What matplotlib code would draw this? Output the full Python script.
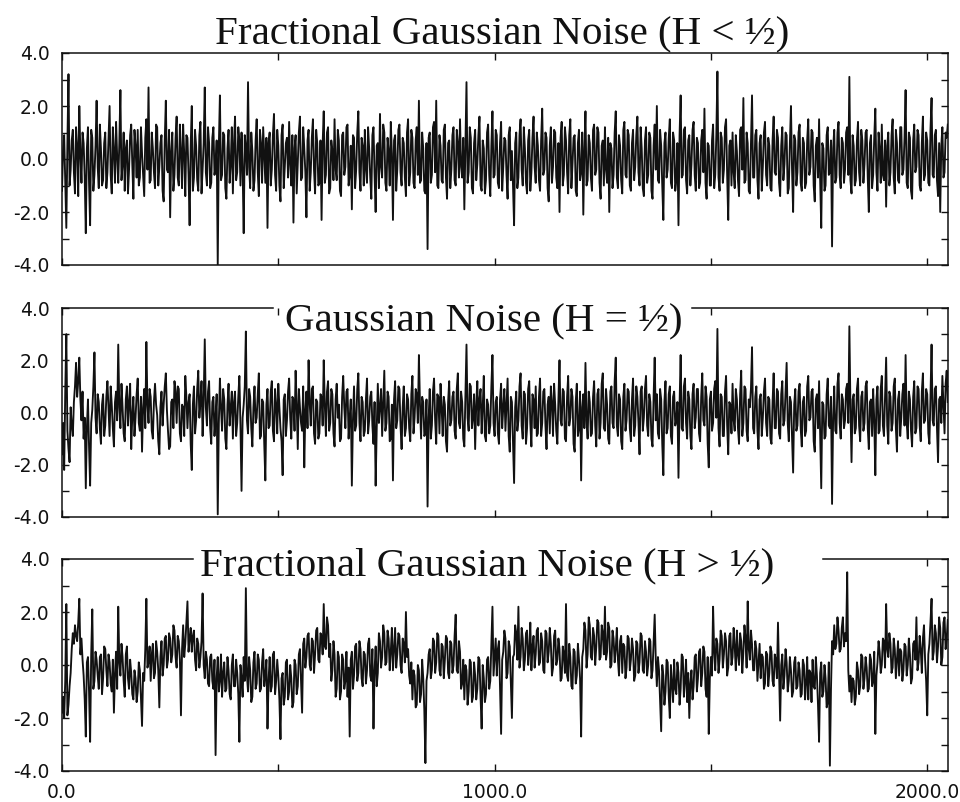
import numpy as np
import matplotlib
matplotlib.use('Agg')
import matplotlib.pyplot as plt
from matplotlib.ticker import MultipleLocator


### data

# one sample kept every STEP time steps
STEP = 2.5

# fractional gaussian noise, anti-persistent (H < 1/2)
fgn_low = [
	-1.2, 0.3, 0.9, -0.8, -2.6, 0.6, 3.2, -1.0, -0.4, 0.7, 1.1, -0.5, -1.3, 1.2, 0.5, -1.4, 2.0, 0.2, -0.9, 1.0, 0.6, -0.7, -2.8, 0.4, 1.2, -0.9, -2.5, 1.1, 0.8, -1.2, -0.6, 0.5, 2.2, -0.3, -1.1, 1.3, 0.4, -1.0, -0.8, 0.6,
	1.0, -1.1, -0.5, 0.8, 2.0, -0.6, -1.3, 1.2, 0.3, -0.9, 1.4, 0.1, -0.9, 0.6, 2.6, -0.8, -0.2, 1.0, -1.2, 0.4, 0.7, -1.3, -0.4, 0.9, 1.3, -0.2, -1.5, 1.1, 0.5, -0.7, 1.1, -1.0, -0.7, 1.2, 0.2, -0.6, -1.4, 0.8, 1.5, -0.4,
	2.7, -0.9, -0.8, 1.0, 0.4, -0.5, -1.1, 1.3, 1.2, -1.0, -0.3, 0.6, 0.9, -1.2, -1.6, 0.7, 2.2, -0.4, -0.5, 1.1, -2.2, 0.3, 1.0, -1.2, -0.6, 0.8, 1.6, -0.7, -1.0, 1.3, 0.3, -1.1, 1.3, 0.2, -1.4, 0.9, 0.8, -0.6, -2.5, 0.5,
	2.0, -1.2, -0.7, 1.1, 0.5, -0.8, -1.2, 0.9, 1.4, -1.3, -0.4, 0.6, 2.7, -0.5, -1.0, 1.2, 0.6, -1.1, -0.9, 0.8, 1.2, -0.6, -0.3, 0.7, -4.0, 0.5, 2.4, -0.8, -0.6, 1.0, 0.9, -1.1, -1.5, 0.4, 1.1, -0.9, -0.2, 1.2, -1.3, 0.6,
	1.6, -0.8, -0.5, 1.2, 0.7, -1.0, 1.0, -0.4, -2.8, 0.9, 0.4, -0.6, 2.9, -0.3, -1.1, 1.0, 0.3, -1.2, -0.8, 0.7, 1.5, -0.5, -1.4, 1.1, 0.6, -0.9, 1.2, 0.1, -0.9, 0.8, -2.6, 0.6, 1.0, -1.0, -0.4, 0.9, 1.7, -0.6, -1.2, 1.1,
	0.5, -1.0, -1.6, 0.9, 1.3, -1.1, -0.3, 0.6, 0.8, -0.7, 1.4, -0.2, -1.0, 0.9, -2.4, 0.4, 0.9, -1.3, -0.2, 1.0, 1.6, -0.8, -0.7, 1.2, 0.4, -0.5, -2.2, 0.7, 1.1, -1.2, -0.5, 0.8, 1.5, -0.4, -1.3, 1.1, 0.6, -1.0, -0.9, 0.7,
	-2.3, 0.6, 1.8, -0.9, -0.6, 1.0, 1.2, -1.3, -1.1, 0.7, 0.3, -0.8, 1.5, -0.4, -0.8, 1.1, 0.7, -1.2, -1.4, 0.9, 1.0, -0.6, -0.3, 1.2, 1.3, -1.0, -0.6, 0.5, -1.9, 0.9, 0.8, -1.1, -0.4, 1.0, 1.8, -0.5, -1.2, 0.8, 0.5, -1.0,
	1.1, -0.4, -0.9, 1.2, 0.4, -0.7, -1.5, 0.9, 1.2, -0.6, -2.0, 0.5, 0.6, -1.1, 1.7, -0.3, -0.7, 1.3, 1.0, -0.9, -1.2, 0.8, 0.3, -1.0, 1.4, 0.2, -2.3, 0.7, 0.9, -1.2, -0.4, 1.1, 1.3, -0.5, -1.0, 0.8, 0.6, -0.7, -1.4, 1.0,
	1.5, -1.0, -0.5, 1.1, 0.8, -0.9, -1.1, 0.7, 1.2, -0.6, 2.2, -0.9, -0.8, 1.0, 0.4, -1.2, -1.3, 0.6, -3.4, 0.8, 1.0, -0.9, -0.6, 1.2, 1.4, -0.5, 2.2, -1.0, -1.1, 0.9, 0.5, -0.8, -0.9, 1.1, 1.3, -0.7, -1.5, 0.6, 0.7, -1.1,
	-0.4, 0.9, 1.2, -0.8, -1.0, 1.1, 0.6, -0.7, 1.5, -0.3, -0.7, 0.8, -1.9, 0.4, 2.9, -0.9, -0.5, 1.2, 0.8, -1.1, -1.3, 0.6, 1.1, -0.8, -0.2, 0.9, 1.6, -1.0, -1.2, 0.7, 0.4, -1.3, -0.8, 1.0, 1.3, -0.6, -1.4, 0.5, 1.8, -0.7,
	-0.6, 1.1, 0.9, -0.9, -1.1, 0.6, 1.4, -1.2, -0.3, 0.8, 0.7, -0.6, -1.5, 0.9, 1.2, -0.8, 0.3, -1.0, -2.5, 0.6, 1.0, -1.1, -0.7, 0.9, 1.5, -0.4, -1.0, 1.2, 0.4, -0.9, -1.3, 0.7, 1.1, -1.2, -0.5, 0.8, 1.6, -0.3, -0.9, 1.0,
	0.5, -0.8, -1.2, 0.7, 1.9, -0.6, -0.4, 1.0, 0.8, -1.1, -1.6, 0.5, 1.2, -0.9, -0.3, 1.1, 1.0, -0.7, -1.1, 0.6, -2.0, 0.8, 1.4, -1.0, -0.6, 1.2, 0.7, -0.5, -1.3, 0.9, 1.5, -1.1, -0.2, 0.8, 0.9, -1.2, -1.4, 0.6, 1.1, -0.8,
	-0.5, 1.0, -2.1, 0.4, 1.8, -1.0, -0.8, 0.9, 0.6, -0.7, -1.2, 1.1, 1.3, -0.6, -0.4, 1.2, 1.0, -0.9, -1.5, 0.5, 0.7, -1.0, 1.2, -0.4, -0.9, 0.8, -2.0, 0.6, 0.4, -1.1, -0.6, 1.0, 1.8, -0.7, -1.1, 0.9, 0.5, -0.8, -1.3, 1.1,
	1.4, -0.6, -0.7, 1.1, 0.9, -1.0, -1.2, 0.6, 1.1, -0.8, -0.3, 0.9, 1.6, -0.5, -1.0, 1.2, 0.4, -1.1, -1.4, 0.7, 1.2, -0.9, -0.6, 1.0, 0.8, -1.2, -1.5, 0.5, 1.3, -0.4, 2.0, -0.8, -0.9, 1.1, 0.5, -1.0, -2.3, 0.6, 1.0, -0.7,
	-0.4, 0.8, 1.5, -0.9, -1.1, 1.0, 0.7, -1.2, -0.8, 0.6, -2.5, 0.9, 2.4, -0.7, -0.6, 1.1, 1.2, -0.8, -1.3, 0.7, 0.9, -1.0, -0.2, 1.1, 1.4, -0.6, -1.2, 0.8, 0.6, -1.1, -0.9, 0.7, 1.1, -0.5, 1.9, -0.9, -1.5, 0.6, 0.5, -1.0,
	-1.0, 0.7, 1.3, -1.1, -0.6, 0.9, 3.3, -0.7, -1.2, 1.0, 0.8, -0.9, -0.4, 1.2, 1.5, -0.6, -2.3, 0.5, 0.7, -1.0, 1.0, -0.5, -1.1, 0.9, 0.3, -0.8, -1.4, 1.1, 1.2, -0.4, 2.3, -0.9, -0.8, 1.0, 0.6, -1.2, -1.3, 0.5, 2.4, -0.7,
	-0.7, 0.9, 1.1, -0.8, -1.5, 0.6, 0.9, -1.2, -0.3, 1.0, 1.4, -0.6, -1.0, 0.8, 0.5, -1.1, -1.2, 0.7, 1.6, -0.5, -0.6, 1.1, 0.8, -0.9, -1.4, 0.5, 1.2, -0.8, -0.2, 1.0, 0.9, -1.3, -1.1, 0.6, 2.0, -0.4, -2.0, 0.9, 0.7, -1.0,
	-0.5, 1.0, 1.3, -0.9, -1.2, 0.8, 0.6, -1.1, -0.9, 0.7, 1.5, -0.6, -0.3, 1.1, 1.0, -1.0, -1.6, 0.5, 0.8, -0.7, 1.5, -0.8, -2.6, 0.6, 0.4, -1.2, -1.0, 0.9, 1.2, -0.6, -0.5, 0.7, -3.3, 0.4, 1.1, -0.9, -0.7, 1.0, 1.4, -0.6,
	-1.1, 0.8, 0.6, -0.9, -0.4, 1.0, 1.2, -0.6, 3.1, -0.8, -1.3, 0.9, 0.5, -1.0, -0.8, 0.7, 1.4, -0.5, -1.0, 1.1, 0.7, -0.9, -0.2, 1.0, 1.1, -0.7, -2.0, 0.6, 0.9, -1.1, -0.6, 0.8, 1.9, -0.5, -1.2, 1.0, 0.4, -0.9, 1.3, -0.6,
	-0.8, 0.7, -1.8, 0.5, 1.0, -1.0, -0.5, 0.9, 1.5, -0.7, -1.3, 1.1, 0.6, -0.8, -0.9, 1.2, 1.2, -0.6, -0.4, 0.8, 2.6, -0.9, -1.1, 1.0, 0.8, -1.2, -1.5, 0.7, 1.3, -0.5, -0.3, 1.1, 0.9, -1.0, -1.2, 0.6, 1.6, -0.8, -0.6, 1.0,
	0.7, -0.9, -1.0, 1.1, 2.3, -0.6, -0.7, 0.9, 1.1, -0.8, -1.4, 0.6, -2.0, 0.5, 1.2, -0.7, -0.5, 1.0, 0.8, 1.3,
]

# plain gaussian noise (H = 1/2)
gn_half = [
	-1.6, -0.4, -2.2, 0.8, 3.0, -0.7, -1.4, -1.9, 0.2, -0.5, -0.9, 0.4, 1.0, 1.9, 0.6, 1.2, 2.1, 0.5, -0.3, 0.8, -1.0, -0.2, -2.9, -0.6, 0.5, -1.3, -2.8, -0.4, 0.1, 1.0, 2.3, -0.2, -0.8, 0.7, 0.4, -0.6, -1.2, 0.3, 0.7, -0.9,
	-0.5, 0.6, 1.2, 0.1, -0.9, 1.0, 0.3, -0.6, -1.3, 0.4, 0.8, -0.3, 2.6, 0.2, -0.6, 1.1, 0.2, -0.8, -1.1, 0.5, 1.0, -0.5, 0.4, 1.1, -1.4, -0.1, 0.6, -0.9, -0.2, 0.7, 1.3, -0.4, -0.7, 0.6, -1.5, 0.2, 0.9, -0.6, 2.7, 0.3,
	-0.4, 0.9, 0.6, -0.7, -1.0, 0.4, 1.1, 0.3, -0.1, -1.1, -1.6, 0.2, 0.8, -0.5, 0.3, 1.0, 1.5, 0.1, -0.7, -1.4, -1.3, 0.4, 0.5, -0.6, 1.2, 0.8, -0.4, 1.0, 0.9, -0.8, -1.1, 0.3, 0.2, -0.9, 1.4, 0.6, -0.6, 0.4, 0.7, -1.2,
	-2.2, 0.3, 1.0, -0.8, -0.3, 0.9, 1.6, -0.2, 0.4, 1.2, -0.9, 0.5, 2.8, 0.2, -0.5, 0.8, 1.2, -0.6, -1.2, 0.4, 0.6, -0.9, -0.2, 0.7, -3.9, -0.4, 1.3, 0.2, -0.7, 0.9, 0.5, -1.0, -1.4, 0.3, 1.1, -0.5, 0.2, 0.8, -1.0, 0.4,
	0.8, -0.9, -0.4, 0.6, 1.4, -0.5, -3.0, -0.2, 0.3, 1.0, 3.1, -0.3, -0.8, 0.9, 0.6, -0.6, -1.3, 0.2, 1.0, -0.4, -0.2, 0.7, 1.5, -1.0, -0.9, 0.5, 0.4, -1.2, -2.6, 0.3, 0.9, -0.6, -0.5, 0.8, 1.2, -0.7, -1.1, 0.9, 0.3, -0.8,
	1.1, 0.2, -0.6, -1.1, -2.4, 0.5, 0.7, -0.9, -0.3, 0.8, 1.3, -0.2, -1.0, 0.6, 0.5, -0.7, 1.6, 0.3, -1.4, 0.9, 0.2, -0.4, -0.7, 1.0, -2.1, 0.1, 0.8, -0.6, 2.0, 0.4, -0.5, 0.9, 1.0, -0.8, -1.2, 0.5, 0.4, -1.0, -0.8, 0.7,
	0.6, -0.5, 2.0, 0.3, -0.9, 0.8, 1.2, -0.7, -0.4, 0.9, 0.7, -0.8, -1.3, 0.5, 1.1, -0.2, 0.3, -1.1, -1.0, 0.6, 1.4, 0.2, -0.6, 0.8, 0.9, -1.0, -0.2, 0.5, -2.8, -0.3, 1.0, -0.7, -0.5, 0.9, 1.5, -0.4, -1.1, 0.6, 0.4, -0.9,
	-0.7, 0.5, 1.3, -0.8, -0.3, 0.6, 0.8, -0.5, -1.2, 0.4, -2.8, -0.6, 1.1, -0.4, 0.2, 0.9, -0.9, 0.3, 1.6, -0.7, -0.4, 0.8, 0.6, -1.1, -1.0, 0.3, -2.6, 0.5, 1.2, -0.6, -0.3, 1.0, 0.9, -0.5, -1.4, 0.2, 1.0, -0.9, -0.6, 0.7,
	0.5, -0.6, -1.1, 0.7, 1.4, -0.8, -0.2, 0.9, 0.7, -0.4, 2.2, 0.3, -1.0, 0.6, 0.4, -0.9, -0.8, 0.5, -3.6, -0.2, 0.9, -1.0, -0.5, 0.8, 1.3, -0.3, -1.2, 0.7, 0.6, -0.8, 1.1, 0.2, -0.9, 0.6, 0.3, -1.1, -1.5, 0.4, 1.2, -0.5,
	-0.3, 0.6, 0.8, -0.7, -1.0, 0.9, 1.5, -0.4, -0.6, 0.8, 0.4, -1.0, -1.3, 0.6, 2.6, -0.2, -0.7, 1.1, 1.0, -0.6, -0.2, 0.7, -1.4, 0.3, 1.2, -0.5, 0.5, 0.9, -0.8, 0.2, 1.4, -0.9, -1.1, 0.5, 0.3, -0.8, -0.5, 1.0, 2.2, -0.4,
	-0.9, 0.4, 0.6, -0.8, -1.2, 0.5, 1.1, -0.6, 0.2, 0.9, -0.7, 0.3, 1.3, -0.9, -1.5, 0.6, 0.4, -1.1, -2.7, 0.2, 0.8, -0.7, -0.3, 1.0, 1.5, -0.5, -1.0, 0.8, 0.7, -1.2, -0.6, 0.9, 1.2, -0.4, -1.3, 0.7, 0.5, -0.6, 1.0, -0.9,
	-0.8, 0.6, 1.3, -0.9, -0.4, 0.8, 0.9, -0.5, -1.4, 0.3, 0.6, -0.8, 1.0, 0.4, -0.9, 1.1, 0.3, -0.7, -1.2, 0.5, 2.0, -0.3, -0.5, 0.9, 0.8, -1.0, -1.1, 0.6, 1.4, -0.5, -0.2, 0.9, 0.6, -1.2, -1.5, 0.4, 1.1, -0.9, -0.6, 0.8,
	-2.6, 0.2, 0.7, -0.6, 1.9, -0.3, -1.0, 0.8, 0.4, -0.9, -0.8, 0.6, 1.2, -0.5, -1.3, 0.7, 0.9, -1.0, -0.4, 1.1, 1.5, -0.6, -0.7, 0.9, 0.3, -1.0, -1.2, 0.8, 1.0, -0.4, -0.6, 1.2, 2.1, -0.5, -0.9, 0.7, 0.5, -1.1, -1.4, 0.6,
	1.1, -0.7, -0.3, 0.9, 0.8, -0.6, -1.1, 0.5, 1.3, -0.9, -0.5, 1.0, 0.6, -0.4, -1.6, 0.8, 1.0, -0.7, -0.2, 0.9, 1.4, -0.5, -0.9, 0.7, 0.4, -1.0, -1.3, 0.6, 2.1, -0.3, 0.7, -0.8, -1.0, 0.9, 0.5, -1.2, -2.4, 0.4, 1.2, -0.8,
	-0.6, 0.7, 1.0, -0.9, -1.2, 0.6, 0.8, -0.5, -0.3, 0.4, -2.5, 0.3, 2.2, -0.6, -0.7, 1.0, 1.3, -0.4, -1.0, 0.8, 0.5, -0.9, -1.4, 0.7, 1.1, -0.6, -0.2, 0.9, 0.9, -0.8, -1.1, 0.6, 1.5, -0.3, -0.5, 1.0, 0.6, -1.2, -2.1, 0.5,
	0.8, -0.7, -0.4, 0.9, 1.2, -0.2, 3.2, -0.6, -1.3, 0.7, 0.6, -0.9, -0.9, 0.8, 1.4, -0.5, -1.6, 0.4, 0.3, -0.8, 1.1, -0.3, -0.7, 0.9, 0.5, -0.6, -1.2, 0.7, 1.6, -0.9, -0.4, 1.0, 0.9, -0.7, -1.1, 0.5, 0.2, 0.9, 2.5, -0.6,
	-0.8, 0.6, 1.0, -0.7, -1.4, 0.5, 0.7, -0.9, -0.2, 0.8, 1.3, -0.4, -0.9, 0.6, 0.5, -1.0, -1.2, 0.4, 1.5, -0.6, -0.6, 0.9, 0.8, -0.8, -1.0, 0.7, 1.2, -0.5, -0.3, 0.8, 1.9, -0.4, -1.1, 0.6, 0.4, -0.9, -2.3, 0.3, 0.9, -0.7,
	-0.5, 0.8, 1.1, -0.6, -1.3, 0.4, 0.6, -0.9, -0.7, 1.0, 1.4, -0.3, -0.2, 0.8, 0.9, -1.1, -1.5, 0.5, 0.7, -0.6, 1.2, -0.8, -2.9, 0.4, 0.3, -1.0, -0.9, 0.7, 1.3, -0.5, -0.6, 0.6, -3.5, -0.2, 1.0, -0.7, -0.8, 1.1, 1.5, -0.4,
	-1.0, 0.7, 0.5, -0.6, -0.3, 0.9, 1.1, -0.4, 3.3, 0.2, -1.9, 0.5, 0.7, -0.8, -0.6, 0.9, 1.3, -0.5, -1.1, 0.6, 0.8, -0.7, -0.4, 1.0, 1.2, -0.6, -1.4, 0.4, 0.5, -0.9, 0.9, -0.3, -2.4, 0.5, 1.0, -0.8, -0.7, 0.9, 1.4, -0.5,
	-0.9, 0.6, 2.1, -0.5, -1.2, 0.8, 0.6, -0.7, -0.4, 1.0, 1.3, -0.6, -1.5, 0.5, 0.8, -0.9, -0.2, 0.7, 1.1, -0.5, 2.2, -0.4, -1.0, 0.8, 0.5, -0.7, -1.3, 0.6, 1.2, -0.8, -0.6, 1.0, 0.9, -0.5, -1.1, 0.8, 1.5, -0.4, -0.3, 0.9,
	0.7, -0.8, -1.2, 0.6, 2.6, -0.3, -0.5, 0.9, 1.0, -0.6, -1.9, 0.5, 0.6, -0.4, 1.4, 0.3, -0.8, 1.1, 1.6, 0.4,
]

# fractional gaussian noise, persistent (H > 1/2)
fgn_high = [
	-1.8, -1.2, -2.0, -0.6, 2.3, -1.9, -1.5, -0.8, -0.3, 0.6, 1.2, 0.8, 1.5, 1.1, 0.9, 1.6, 2.5, 0.4, 1.0, 0.2, -0.4, -1.3, -2.7, 0.1, 0.3, -1.0, -2.9, 0.4, 2.1, -0.9, -0.6, 0.5, 0.2, -0.4, -0.9, 0.3, 0.4, -1.1, -0.5, 0.7,
	0.6, -0.2, -0.8, 0.4, 0.1, -0.7, -1.0, 0.2, -1.8, -0.3, 0.5, -0.9, 2.2, 0.1, -0.4, 0.8, 0.3, -0.6, -1.2, 0.4, 0.7, -0.5, -0.9, 0.2, -0.3, -1.1, -1.3, -0.2, -0.5, -1.4, -1.0, 0.1, -0.2, -1.2, -2.3, -0.3, -0.6, 0.6, 2.5, -0.1,
	0.1, 0.7, -0.6, 0.4, 0.8, -0.5, -0.3, 0.9, 0.5, -0.2, -1.6, 0.3, 0.9, -0.4, 0.0, 1.0, 1.1, -0.1, 0.2, 1.2, 1.0, 0.1, 0.4, 1.5, 1.3, 0.3, -0.1, 1.1, 0.9, 0.2, -1.9, 0.6, 1.5, 0.3, 0.8, 1.6, 2.4, 0.5, 1.0, 1.4,
	0.5, 1.1, 1.3, 0.2, -0.2, 1.0, 0.8, -0.1, 0.3, 0.9, 2.7, 0.0, -0.5, 0.5, 0.2, -0.7, -0.8, 0.3, 0.4, -0.6, -0.9, 0.2, -3.4, -0.5, 0.3, -1.0, -0.6, 0.4, -1.2, -0.3, 0.1, -1.0, -0.9, 0.3, -0.2, -1.1, -1.3, 0.0, 0.4, -0.8,
	-0.8, 0.2, -0.3, -1.1, -2.9, 0.0, -0.5, -1.2, 0.3, -0.6, 2.9, -0.4, -1.0, 0.3, -0.2, -1.4, -1.2, 0.1, 0.5, -0.9, -0.7, 0.4, 0.2, -1.0, -0.9, 0.1, 0.6, -0.8, -0.4, 0.2, -2.4, -0.6, 0.3, -1.0, -0.8, 0.4, 0.5, -1.1, -0.6, 0.2,
	-0.4, -1.3, -2.8, -0.5, -0.3, -1.5, -1.2, 0.1, 0.2, -1.3, -1.0, 0.0, -0.5, -1.6, -1.4, 0.2, 0.0, -1.1, -0.8, 0.4, 0.6, -0.6, -1.8, 0.8, 1.0, -0.1, 0.3, 1.1, 1.2, 0.0, -0.2, 1.0, 0.9, -0.3, 0.4, 1.3, 1.4, 0.2, 0.1, 1.2,
	1.1, 0.4, 2.3, 0.7, 0.6, 1.8, 1.5, 0.3, 0.8, -0.6, -0.2, 0.9, 0.4, -1.2, -0.9, 0.5, 0.3, -1.3, -1.0, 0.4, 0.2, -0.9, -0.6, 0.5, -1.2, -0.1, -2.7, 0.2, 0.5, -0.9, -0.4, 0.7, 0.8, -0.6, -0.3, 0.9, 0.6, -0.5, -0.8, 0.5,
	0.4, -0.7, -0.2, 0.8, 1.0, -0.4, -0.6, 0.6, -2.4, -0.2, 0.7, -0.8, -0.3, 1.2, 0.9, -0.1, 0.3, 1.5, 1.2, 0.0, 0.1, 1.3, 1.0, -0.2, 0.5, 1.4, -0.2, 0.6, 1.4, -0.1, 0.4, 1.2, 1.1, 0.0, -0.3, 1.0, 0.8, 0.1, 2.0, 0.3,
	0.6, -0.4, -0.7, 0.1, -1.3, -0.2, -0.4, -1.6, -1.5, 0.0, -0.2, -1.4, -1.1, 0.2, -0.5, -1.7, -3.7, -0.6, -0.3, 0.4, 0.6, -0.5, -0.2, 1.0, 0.9, -0.3, 0.1, 1.2, 1.1, -0.2, -0.4, 0.8, 0.7, -0.5, 0.2, 1.1, 1.0, -0.3, -0.5, 0.9,
	0.8, -0.3, 0.0, 1.1, 1.9, -0.2, -0.3, 0.9, 0.5, -0.9, -0.7, 0.2, -1.3, 0.0, -0.2, -1.5, -1.0, 0.2, 0.1, -1.4, -1.2, 0.1, -0.4, -1.3, -0.9, 0.3, 0.2, -1.2, -2.4, 0.0, -0.5, -1.4, -1.1, 0.2, 0.3, -0.9, -0.6, 0.8, 2.2, -0.4,
	0.3, 1.0, -0.4, 0.6, 0.9, -0.8, -2.6, 0.2, 0.5, 1.3, 1.0, -0.5, -0.3, 0.9, 0.7, -0.6, -2.0, 0.3, 0.4, 1.5, 1.2, 0.2, 2.2, -0.1, 0.3, 1.4, 1.0, -0.2, 0.2, 1.2, 1.3, 0.0, 0.5, 1.6, -0.2, 0.7, 1.1, -0.1, 0.4, 1.3,
	1.4, 0.0, 0.1, 1.2, 0.9, -0.2, -0.3, 1.3, 1.2, 0.1, 0.5, 1.4, 0.8, -0.4, -0.1, 1.1, 1.3, 0.0, 0.2, 1.0, 0.6, -0.6, -0.5, 0.7, 0.4, -0.3, 2.3, -0.4, -0.6, 0.8, 0.3, -0.8, -0.9, 0.6, 0.5, -0.7, -0.4, 0.8, 0.2, -0.5,
	-2.7, 0.3, 0.6, 1.6, 1.3, -0.1, 0.4, 1.8, 1.5, 0.3, 0.2, 1.4, 1.1, 0.0, 0.7, 1.7, 1.6, 0.2, 0.3, 1.5, 1.2, 0.4, 2.2, 0.2, 0.5, 1.6, 1.4, -0.1, 0.0, 1.3, 1.0, 0.1, 0.6, 1.4, 0.2, -0.4, 0.9, 1.1, -0.3, 0.8,
	0.7, -0.5, -0.1, 1.1, 1.0, -0.2, 0.2, 1.0, 0.6, -0.6, -0.4, 0.9, 0.8, -0.3, 0.1, 1.2, 1.1, -0.2, -0.3, 0.9, 0.5, -0.4, 0.0, 1.0, 0.9, -0.5, -0.2, 0.8, 1.9, 0.2, -0.8, 0.3, -0.2, -1.3, -2.5, 0.0, -0.4, -1.5, -1.0, 0.2,
	0.1, -1.2, -2.0, 0.0, -0.7, -1.4, 0.2, -0.9, -1.1, 0.1, -0.3, -1.5, -0.9, 0.4, 0.3, -1.2, -0.6, 0.2, -1.4, -0.3, -2.0, -0.7, -0.2, -1.3, -0.8, 0.3, 0.4, -1.0, -0.5, 0.5, 0.6, -0.8, -0.3, 0.7, 0.5, -0.9, -1.2, 0.3, -2.6, -0.5,
	0.3, -0.4, 2.2, 0.5, -0.2, 1.0, 0.8, -0.3, 0.2, 1.3, 1.1, -0.1, 0.4, 1.2, 0.9, -0.4, -0.1, 1.1, 1.2, 0.0, 0.3, 1.4, 0.7, -0.2, 1.3, 0.4, 0.0, 1.2, 0.9, -0.3, 0.5, 1.5, 1.0, -0.1, 2.4, 0.6, 0.2, 1.3, 0.8, -0.2,
	-0.2, 0.9, 0.6, -0.6, 0.1, 0.8, -0.5, 0.4, 0.3, -0.9, -0.7, 0.5, 0.4, -0.8, -0.3, 0.7, 0.5, -0.6, -0.8, 0.4, 0.2, -0.5, 1.6, -0.3, -2.1, 0.0, 0.4, -0.9, -0.4, 0.6, 0.1, -1.0, -0.6, 0.3, -0.2, -1.2, -1.0, 0.1, 0.3, -0.9,
	-0.8, 0.1, -0.2, -1.2, -1.1, 0.2, 0.0, -1.3, -0.7, 0.3, -1.3, -0.2, -0.3, -1.4, 0.2, -0.8, -0.9, 0.3, -0.4, -1.5, -2.9, -0.3, 0.1, -1.2, -1.0, 0.0, -0.5, -1.6, -1.4, 0.1, -3.8, -0.9, 0.9, 0.4, 1.5, 0.6, 0.8, 1.8, 1.3, 0.5,
	0.6, 1.4, 1.8, 0.7, 1.2, 0.9, 3.5, -0.2, -1.0, -0.4, -1.4, -0.5, -0.6, -1.5, -1.2, 0.1, -0.2, -1.1, -0.8, 0.4, 0.3, -0.9, -0.5, 0.3, -0.1, -1.0, -0.9, 0.4, 0.2, -0.8, -0.6, 0.5, -2.6, -0.4, 0.1, 0.9, 0.5, -0.3, 0.0, 1.0,
	0.9, -0.1, 2.3, 0.6, 0.3, 1.2, 0.8, -0.3, -0.1, 1.0, 0.6, -0.5, 0.2, 0.9, -0.4, 0.6, 0.5, -0.6, -0.2, 0.8, 0.7, -0.4, 0.0, 1.0, 0.4, -0.7, -0.5, 0.8, 0.9, 0.2, 1.8, -0.2, 0.1, 1.1, 0.6, -0.3, 1.0, 1.5, 0.2, -0.6,
	-1.9, 0.4, 0.8, 1.6, 2.5, 0.2, 0.5, 1.5, 1.2, 0.1, 0.7, 1.8, 1.4, 0.0, 0.3, 1.6, 1.8, 0.6, 1.0, 1.7,
]

titles = ['Fractional Gaussian Noise (H < ½)', 'Gaussian Noise (H = ½)', 'Fractional Gaussian Noise (H > ½)']
x_ticks = [0.0, 1000.0, 2000.0]
y_ticks = [-4.0, -2.0, 0.0, 2.0, 4.0]


### layout

# axes boxes in figure pixels: left, top, right, bottom
W, H = 960, 802
boxes = [(62, 53, 948, 265), (62, 308, 948, 517), (62, 559, 948, 771)]
# title centre x / baseline y in pixels, and gap in the top frame (axes fraction)
title_pos = [(502, 43), (484, 331), (487, 575)]
frame_gaps = [None, (0.238, 0.711), (0.148, 0.859)]

INK = '#111111'
plt.rcParams['font.family'] = ['DejaVu Sans']


### plot

fig = plt.figure(figsize=(W/100, H/100), dpi=100)
fig.patch.set_facecolor('white')

series = [fgn_low, gn_half, fgn_high]
for i, (vals, box) in enumerate(zip(series, boxes)):
	l, t, r, b = box
	ax = fig.add_axes([l/W, 1-b/H, (r-l)/W, (b-t)/H])
	y = np.array(vals)
	x = np.arange(len(y))*STEP
	ax.plot(x, y, color=INK, lw=1.35)

	ax.set_xlim(0, 2048)
	ax.set_ylim(-4, 4)
	ax.xaxis.set_major_locator(MultipleLocator(1000))
	ax.xaxis.set_minor_locator(MultipleLocator(500))
	ax.yaxis.set_major_locator(MultipleLocator(2))
	ax.yaxis.set_minor_locator(MultipleLocator(1))
	ax.set_yticks(y_ticks)
	ax.set_yticklabels([f"{v:.1f}" for v in y_ticks])
	ax.tick_params(which='both', direction='in', top=True, right=True, length=5, width=1, color=INK)
	ax.tick_params(axis='y', labelsize=13.5, pad=9, labelcolor=INK)
	ax.tick_params(axis='x', labelsize=13.5, pad=9, labelcolor=INK)
	if i < 2:
		ax.set_xticklabels([])
	else:
		ax.set_xticks(x_ticks)
		ax.set_xticklabels([f"{v:.1f}" for v in x_ticks])

	for s in ax.spines.values():
		s.set_linewidth(1.1)
		s.set_color(INK)

	tx, ty = title_pos[i]
	style = dict(ha='center', va='baseline', family=['Liberation Serif', 'DejaVu Serif'],
		fontsize=29.5, color=INK)

	# break the top frame where the title sits on it
	gap = frame_gaps[i]
	if gap is not None:
		ax.spines['top'].set_visible(False)
		for a0, a1 in [(0, gap[0]), (gap[1], 1)]:
			ax.plot([a0, a1], [1, 1], transform=ax.transAxes, clip_on=False, color=INK, lw=1.1)
		style['bbox'] = dict(facecolor='white', edgecolor='none', pad=1)

	fig.text(tx/W, 1-ty/H, titles[i], **style)

fig.savefig('out.png', dpi=100)
